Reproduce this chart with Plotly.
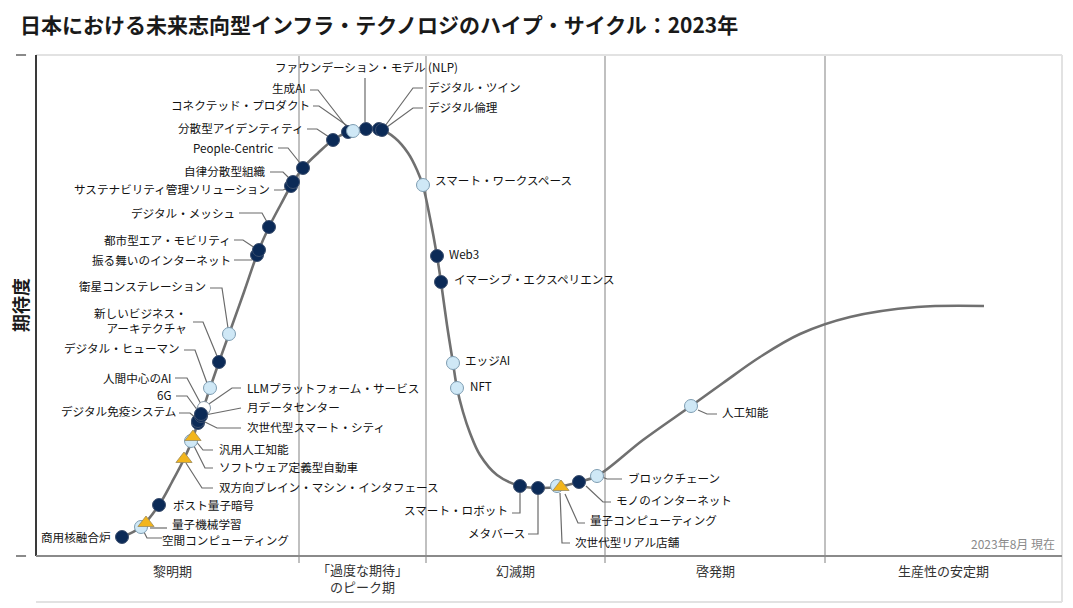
import plotly.graph_objects as go

FONT = "Noto Sans CJK JP"

title_text = "日本における未来志向型インフラ・テクノロジのハイプ・サイクル：2023年"
y_title = "期待度"
x_title = "時間"
note_text = "2023年8月 現在"

phase_names = ["黎明期", "「過度な期待」<br>のピーク期", "幻滅期", "啓発期", "生産性の安定期"]
phase_bounds = [0, 263, 390, 569, 789, 1026]

# hype curve (time, expectation)
curve_time = [86, 105, 123, 136, 148, 157, 162, 167, 174, 183, 193, 208, 222, 233, 245, 256, 267,
              282, 297, 312, 330, 344, 359, 372, 381, 387, 394, 401, 405, 411, 417, 421, 427, 434,
              444, 461, 484, 502, 521, 543, 561, 607, 655, 687, 724, 764, 814, 881, 948]
curve_expect = [19, 29, 51, 74, 97, 118, 134, 147, 168, 194, 222, 264, 304, 329, 352, 372, 388,
                403, 416, 424, 428, 427, 418, 403, 386, 370, 338, 300, 274, 231, 193, 168, 144, 123,
                101, 81, 70, 68, 69, 74, 80, 116, 150, 173, 199, 222, 239, 249, 250]

tech_names = [
    "商用核融合炉", "空間コンピューティング", "量子機械学習", "ポスト量子暗号",
    "双方向ブレイン・マシン・インタフェース", "ソフトウェア定義型自動車", "汎用人工知能",
    "次世代型スマート・シティ", "デジタル免疫システム", "月データセンター", "6G",
    "LLMプラットフォーム・サービス", "人間中心のAI", "デジタル・ヒューマン",
    "新しいビジネス・アーキテクチャ", "衛星コンステレーション", "振る舞いのインターネット",
    "都市型エア・モビリティ", "デジタル・メッシュ", "サステナビリティ管理ソリューション",
    "自律分散型組織", "People-Centric", "分散型アイデンティティ", "生成AI",
    "コネクテッド・プロダクト", "ファウンデーション・モデル (NLP)", "デジタル・ツイン",
    "デジタル倫理", "スマート・ワークスペース", "Web3", "イマーシブ・エクスペリエンス",
    "エッジAI", "NFT", "スマート・ロボット", "メタバース", "次世代型リアル店舗",
    "量子コンピューティング", "モノのインターネット", "ブロックチェーン", "人工知能",
]
tech_time = [86, 105, 110, 123, 148, 155, 157, 162, 162, 165, 165, 167, 168, 174, 183, 193, 221,
             223, 233, 255, 257, 267, 297, 312, 317, 330, 343, 346, 387, 401, 405, 417, 421, 484,
             502, 521, 525, 543, 561, 655]
tech_expect = [19, 29, 33, 51, 97, 115, 119, 133, 135, 140, 142, 146, 148, 168, 194, 222, 301,
               306, 329, 370, 374, 388, 416, 424, 425, 427, 427, 426, 371, 300, 274, 193, 168, 70,
               68, 70, 69, 74, 80, 150]
tech_kind = ["dark", "light", "tri", "dark", "tri", "light", "tri", "dark", "dark", "dark", "dark",
             "white", "white", "light", "dark", "light", "dark", "dark", "dark", "dark", "dark",
             "dark", "dark", "dark", "light", "dark", "dark", "dark", "light", "dark", "dark",
             "light", "light", "dark", "dark", "light", "tri", "dark", "light", "light"]

# label placement: (x, y, anchor, leader polyline)
label_layout = {
    "ファウンデーション・モデル (NLP)": (237, 489, "left", [(329, 478), (329, 434)]),
    "生成AI": (272, 468, "right", [(274, 466), (282, 466), (310, 430)]),
    "コネクテッド・プロダクト": (276, 451, "right", [(277, 450), (283, 450), (313, 429)]),
    "分散型アイデンティティ": (270, 428, "right", [(271, 427), (281, 427), (293, 419)]),
    "People-Centric": (239, 408, "right", [(242, 408), (252, 408), (264, 393)]),
    "自律分散型組織": (232, 385, "right", [(234, 384), (247, 384), (254, 377)]),
    "サステナビリティ管理ソリューション": (236, 367, "right", [(238, 366), (247, 366), (252, 368)]),
    "デジタル・メッシュ": (201, 343, "right", [(203, 343), (226, 343), (231, 334)]),
    "都市型エア・モビリティ": (197, 316, "right", [(198, 316), (207, 316), (219, 308)]),
    "振る舞いのインターネット": (197, 296, "right", [(198, 296), (216, 296), (219, 299)]),
    "衛星コンステレーション": (172, 270, "right", [(174, 268), (186, 268), (192, 228)]),
    "新しいビジネス・アーキテクチャ": (153, 236, "right", [(157, 234), (167, 234), (181, 200)]),
    "デジタル・ヒューマン": (146, 208, "right", [(148, 206), (159, 206), (171, 173)]),
    "人間中心のAI": (137, 178, "right", [(139, 178), (151, 178), (166, 150)]),
    "6G": (137, 161, "right", [(140, 160), (151, 160), (162, 145)]),
    "デジタル免疫システム": (142, 145, "right", [(143, 143), (154, 143), (161, 137)]),
    "LLMプラットフォーム・サービス": (209, 168, "left", [(205, 168), (196, 168), (170, 150)]),
    "月データセンター": (209, 149, "left", [(205, 148), (194, 146), (169, 141)]),
    "次世代型スマート・シティ": (209, 129, "left", [(205, 128), (181, 128), (167, 135)]),
    "汎用人工知能": (181, 107, "left", [(177, 106), (167, 106), (159, 116)]),
    "ソフトウェア定義型自動車": (181, 89, "left", [(177, 88), (169, 88), (157, 112)]),
    "双方向ブレイン・マシン・インタフェース": (181, 69, "left", [(177, 68), (166, 68), (150, 93)]),
    "ポスト量子暗号": (135, 51, "left", []),
    "量子機械学習": (134, 32, "left", [(131, 28), (114, 28)]),
    "空間コンピューティング": (124, 16, "left", [(126, 18), (111, 18), (108, 24)]),
    "商用核融合炉": (77, 19, "right", []),
    "デジタル・ツイン": (390, 469, "left", [(387, 468), (377, 468), (349, 430)]),
    "デジタル倫理": (390, 449, "left", [(387, 448), (377, 448), (351, 429)]),
    "スマート・ワークスペース": (397, 376, "left", []),
    "Web3": (411, 302, "left", []),
    "イマーシブ・エクスペリエンス": (416, 277, "left", []),
    "エッジAI": (427, 196, "left", []),
    "NFT": (432, 170, "left", []),
    "スマート・ロボット": (474, 46, "right", [(476, 43), (484, 43), (484, 63)]),
    "メタバース": (491, 23, "right", [(492, 22), (502, 22), (502, 62)]),
    "次世代型リアル店舗": (537, 14, "left", [(534, 13), (526, 13), (524, 63)]),
    "量子コンピューティング": (552, 36, "left", [(549, 33), (542, 33), (529, 62)]),
    "モノのインターネット": (578, 56, "left", [(575, 54), (567, 54), (550, 70)]),
    "ブロックチェーン": (590, 78, "left", [(586, 77), (571, 77), (566, 79)]),
    "人工知能": (684, 144, "left", [(681, 142), (671, 142), (662, 146)]),
}
display_text = {"新しいビジネス・アーキテクチャ": "新しいビジネス・<br>アーキテクチャ"}

X_MAX, Y_MAX = 1026, 501

fig = go.Figure()

# hype curve
fig.add_trace(go.Scatter(x=curve_time, y=curve_expect, mode="lines",
                         line=dict(color="#707070", width=2.6, shape="spline", smoothing=1.0),
                         hoverinfo="skip", showlegend=False))

# leader lines
lx, ly = [], []
for name in tech_names:
    pts = label_layout[name][3]
    if pts:
        for (a, b) in pts:
            lx.append(a)
            ly.append(b)
        lx.append(None)
        ly.append(None)
fig.add_trace(go.Scatter(x=lx, y=ly, mode="lines", line=dict(color="#6a6a6a", width=1.2),
                         hoverinfo="skip", showlegend=False))

styles = {
    "white": dict(symbol="circle", size=13, color="#ffffff", line=dict(color="#8a9aa8", width=1)),
    "dark": dict(symbol="circle", size=13, color="#0b2a57", line=dict(color="#3c4f6e", width=1)),
    "light": dict(symbol="circle", size=13, color="#cfe8f6", line=dict(color="#7e9db2", width=1)),
    "tri": dict(symbol="triangle-up", size=14, color="#f2b51c", line=dict(color="#9c8a5a", width=0.8)),
}
for k in ["white", "dark", "light", "tri"]:
    xs = [t for t, kk in zip(tech_time, tech_kind) if kk == k]
    ys = [e for e, kk in zip(tech_expect, tech_kind) if kk == k]
    nm = [n for n, kk in zip(tech_names, tech_kind) if kk == k]
    fig.add_trace(go.Scatter(x=xs, y=ys, mode="markers", marker=styles[k], text=nm,
                             hoverinfo="text", showlegend=False))

annotations = []
for name in tech_names:
    tx, ty, anc, _ = label_layout[name]
    annotations.append(dict(x=tx, y=ty, xref="x", yref="y", text=display_text.get(name, name),
                            xanchor=anc, yanchor="middle", showarrow=False,
                            align=anc, font=dict(family=FONT, size=11.6, color="#111111")))

# phase labels
for i, p in enumerate(phase_names):
    cx = (phase_bounds[i] + phase_bounds[i + 1]) / 2
    if i == 0:
        cx += 5
    annotations.append(dict(x=cx, y=-0.028 if "<br>" not in p else -0.044, xref="x", yref="paper",
                            text=p, showarrow=False, xanchor="center", yanchor="middle",
                            font=dict(family=FONT, size=13, color="#333333")))

annotations += [
    dict(x=-0.0175, y=1.062, xref="paper", yref="paper", text="<b>" + title_text + "</b>",
         showarrow=False, xanchor="left", yanchor="middle",
         font=dict(family=FONT, size=21, color="#1a1a1a")),
    dict(x=-0.016, y=0.5, xref="paper", yref="paper", text="<b>" + y_title + "</b>",
         textangle=-90, showarrow=False, xanchor="center", yanchor="middle",
         font=dict(family=FONT, size=18, color="#1a1a1a")),
    dict(x=0.49, y=-0.094, xref="paper", yref="paper", text="<b>" + x_title + "</b>",
         showarrow=False, xanchor="center", yanchor="top",
         font=dict(family=FONT, size=18, color="#1a1a1a")),
    dict(x=1021, y=13, xref="x", yref="y", text=note_text, showarrow=False,
         xanchor="right", yanchor="middle", font=dict(family=FONT, size=12, color="#8a8a8a")),
]

shapes = [
    # outer light frame
    dict(type="line", xref="paper", yref="paper", x0=0, x1=1, y0=1, y1=1,
         line=dict(color="#e2e2e2", width=2)),
    dict(type="line", xref="paper", yref="paper", x0=1, x1=1, y0=-0.092, y1=1,
         line=dict(color="#e2e2e2", width=2)),
    dict(type="line", xref="paper", yref="paper", x0=0, x1=1, y0=-0.092, y1=-0.092,
         line=dict(color="#e2e2e2", width=2)),
    # axes
    dict(type="line", xref="paper", yref="paper", x0=0, x1=0, y0=0, y1=1,
         line=dict(color="#3a3a3a", width=2)),
    dict(type="line", xref="paper", yref="paper", x0=0, x1=1, y0=0, y1=0,
         line=dict(color="#8a8a8a", width=2)),
    # small ticks on the left
    dict(type="line", xref="paper", yref="paper", x0=-0.0195, x1=-0.0097, y0=1, y1=1,
         line=dict(color="#8a8a8a", width=2)),
    dict(type="line", xref="paper", yref="paper", x0=-0.0195, x1=-0.0097, y0=0, y1=0,
         line=dict(color="#8a8a8a", width=2)),
]
for b in phase_bounds[1:-1]:
    shapes.append(dict(type="line", xref="x", yref="paper", x0=b, x1=b, y0=-0.014, y1=1,
                       line=dict(color="#ababab", width=1.5), layer="below"))

fig.update_layout(
    width=1073, height=608,
    margin=dict(l=36, r=11, t=55, b=52),
    paper_bgcolor="white", plot_bgcolor="white",
    xaxis=dict(range=[0, X_MAX], showgrid=False, zeroline=False, showticklabels=False,
               showline=False, ticks="", fixedrange=True),
    yaxis=dict(range=[0, Y_MAX], showgrid=False, zeroline=False, showticklabels=False,
               showline=False, ticks="", fixedrange=True),
    annotations=annotations, shapes=shapes,
    font=dict(family=FONT),
    showlegend=False,
)

fig.write_html("out.html", config={"displayModeBar": False},
               post_script="document.body.style.margin='0';document.body.style.overflow='hidden';")
